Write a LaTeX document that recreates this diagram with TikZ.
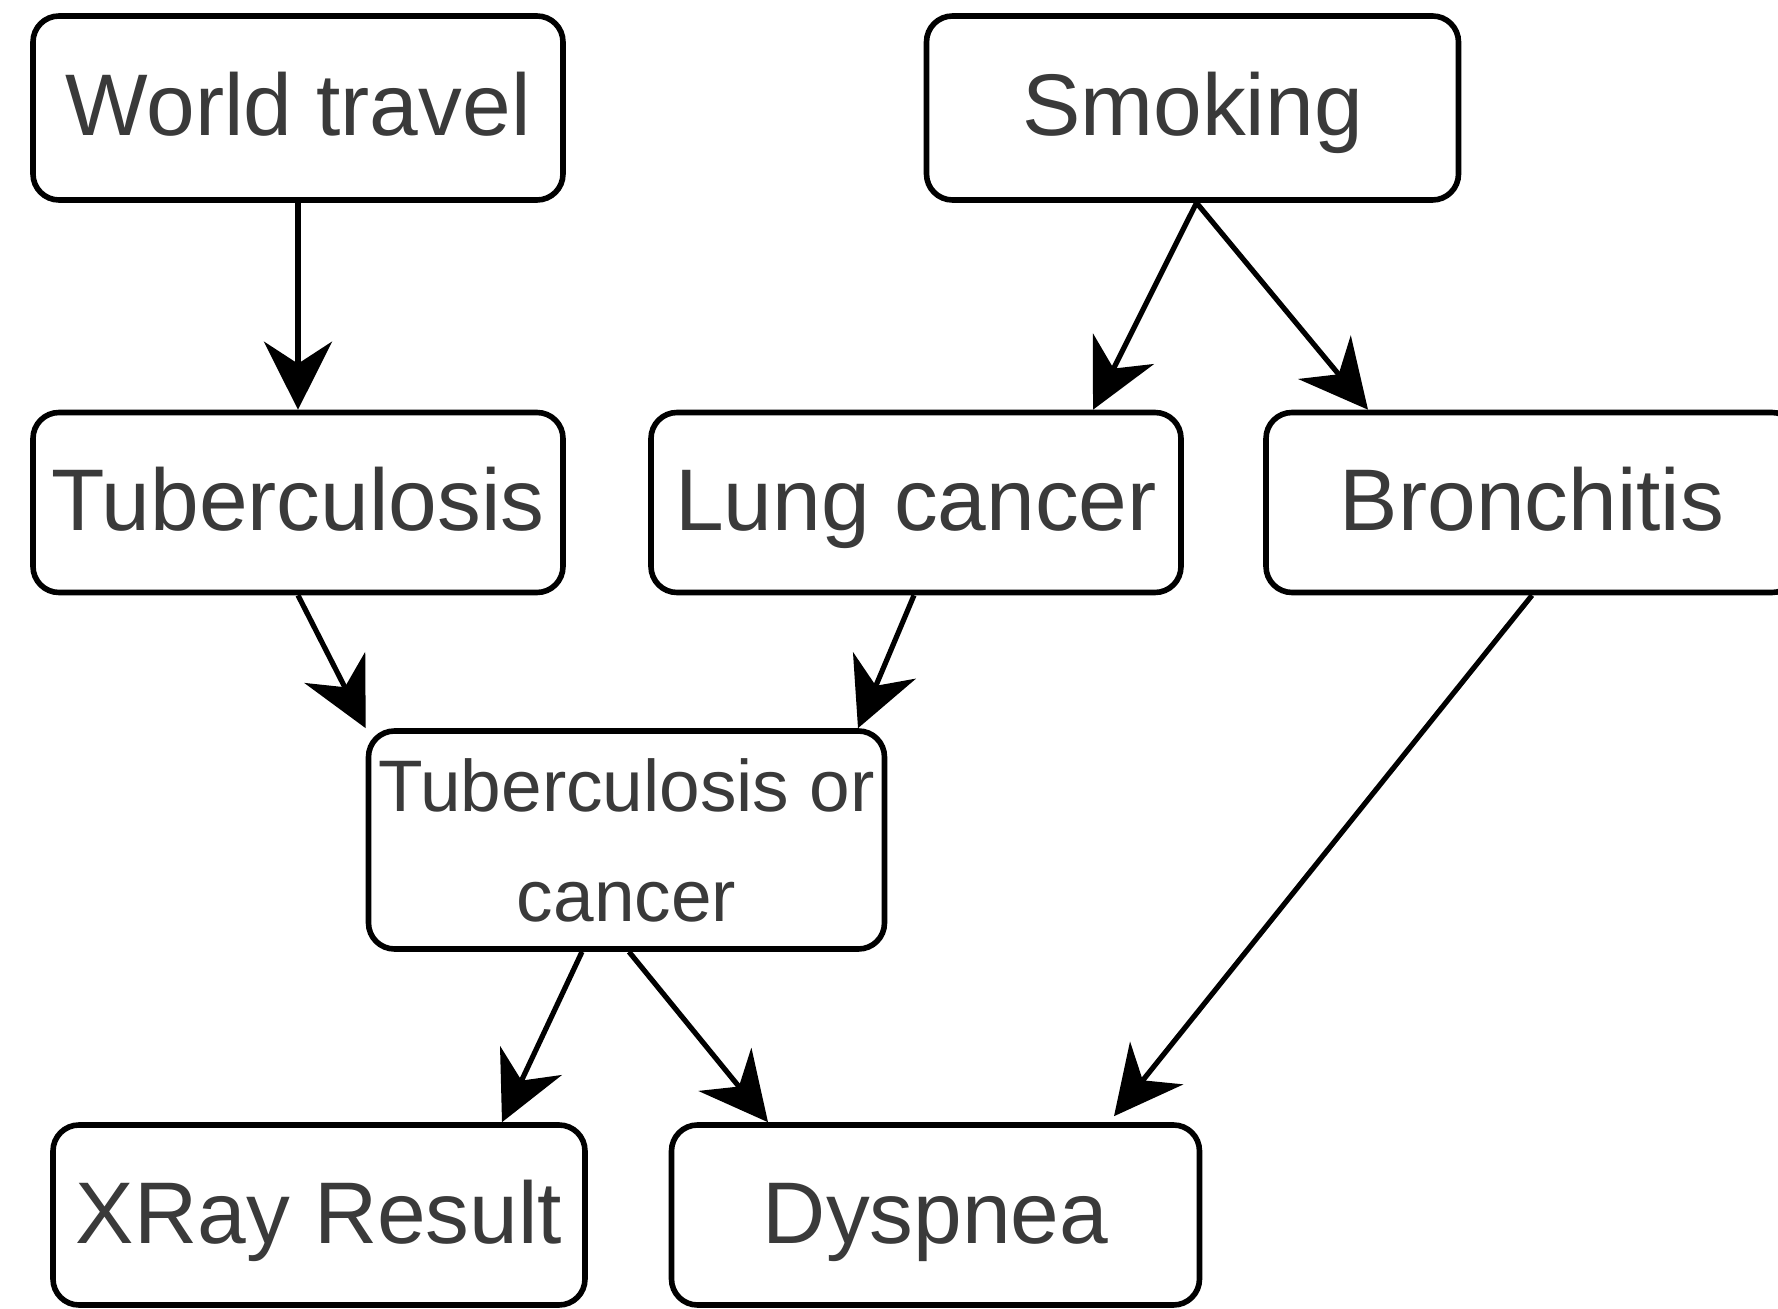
\documentclass[tikz,border=0pt]{standalone}
\usepackage{fontspec}
\setmainfont{Liberation Sans}
\usetikzlibrary{arrows.meta,calc}
\definecolor{txt}{HTML}{3A3A3A}
\tikzset{
  box/.style={draw=black, line width=2.8pt, rounded corners=13pt, fill=white, text=txt,
    inner sep=0pt, font=\fontsize{43.75}{52}\selectfont, text height=34pt, text depth=6pt},
  conn/.style={line width=2.6pt, -{Stealth[length=34pt,width=34pt,inset=11pt]}},
}
\begin{document}
\begin{tikzpicture}[x=0.5pt,y=-0.5pt]
\useasboundingbox (0,0) rectangle (1778,1309);
\node[box, minimum width=265pt, minimum height=92pt] (wt) at (298,108) {World travel};
\node[box, minimum width=266pt, minimum height=92pt] (sm) at (1192.5,108) {Smoking};
\node[box, minimum width=265pt, minimum height=90pt] (tb) at (298,502.5) {Tuberculosis};
\node[box, minimum width=265pt, minimum height=90pt] (lc) at (916,502.5) {Lung cancer};
\node[box, minimum width=266pt, minimum height=90pt] (br) at (1532,502.5) {Bronchitis};
\node[box, minimum width=258pt, minimum height=109pt, align=center, text height=, text depth=,
  font=\fontsize{36.5}{55}\selectfont] (toc) at (626.5,840) {Tuberculosis or\\cancer};
\node[box, minimum width=266pt, minimum height=90pt] (xr) at (319,1215) {XRay Result};
\node[box, minimum width=264pt, minimum height=90pt] (dy) at (935.5,1215) {Dyspnea};

\draw[conn] (wt.south) -- (tb.north);
\draw[conn] ([xshift=2pt]sm.south) -- ([xshift=88.5pt]lc.north);
\draw[conn] ([xshift=2pt]sm.south) -- ([xshift=-82pt]br.north);
\draw[conn] (tb.south) -- (toc.north west);
\draw[conn] ([xshift=-1pt]lc.south) -- ([xshift=115.75pt]toc.north);
\draw[conn] ([xshift=-22.25pt]toc.south) -- ([xshift=91.5pt]xr.north);
\draw[conn] ([xshift=1.25pt]toc.south) -- ([xshift=-83.75pt]dy.north);
\draw[conn] (br.south) -- ([xshift=89.25pt,yshift=3pt]dy.north);
\end{tikzpicture}
\end{document}
